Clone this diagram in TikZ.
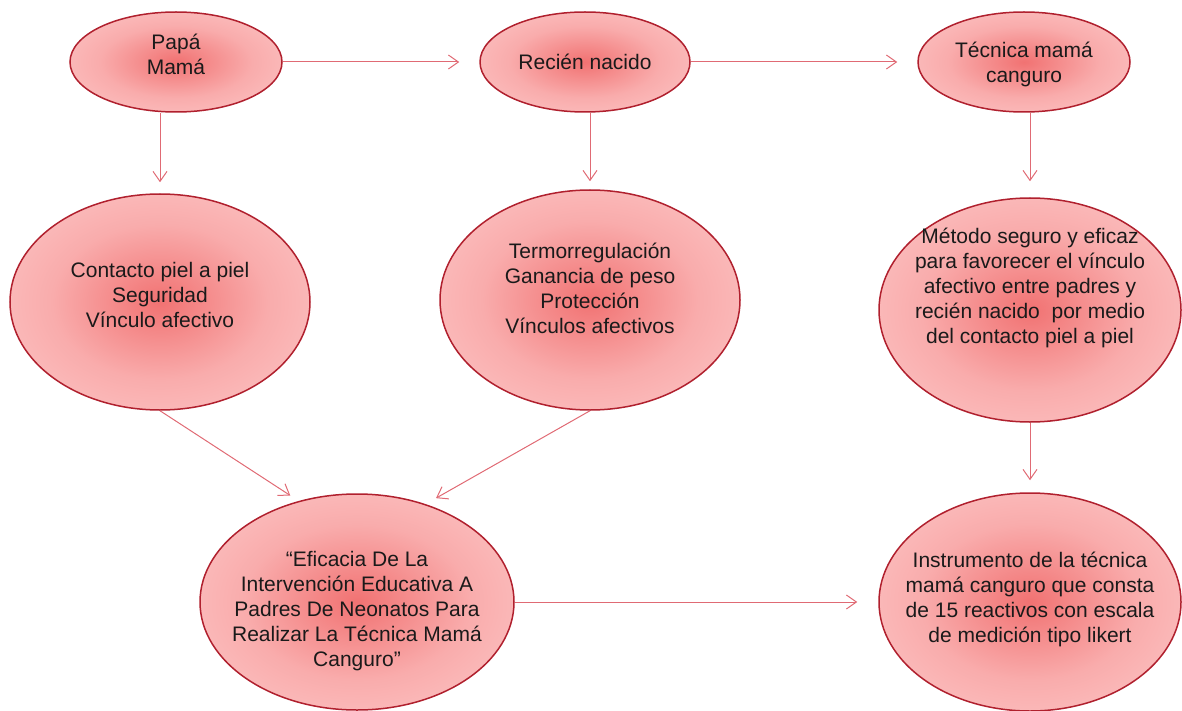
\documentclass[tikz,border=0pt]{standalone}
\usepackage{fontspec}
\setmainfont{Liberation Sans}
\usetikzlibrary{shapes.geometric, arrows.meta}
\definecolor{rim}{HTML}{B0202E}
\definecolor{core}{HTML}{F17272}
\definecolor{mid}{HTML}{F9ACAC}
\definecolor{halo}{HTML}{FFD8D8}
\definecolor{wire}{HTML}{E06A74}
\definecolor{ink}{HTML}{1A1A1A}
\pgfdeclareradialshading{blob}{\pgfpoint{0bp}{0bp}}{color(0bp)=(core); color(18bp)=(mid); color(45bp)=(halo); color(50bp)=(halo)}
\begin{document}
\begin{tikzpicture}[x=1pt, y=1pt, yscale=-1,
        bubble/.style={ellipse, draw=rim, line width=1.5pt, shading=blob, inner sep=0pt},
        txt/.style={align=center, text=ink, font=\fontsize{21}{25}\selectfont},
        link/.style={draw=wire, line width=1pt, -{Straight Barb[length=10pt, width=14pt]}}]
                \useasboundingbox (0, 0) rectangle (1182, 711);
                \node [bubble, minimum width=212pt, minimum height=100pt, label={[txt, yshift=8pt]center:{Papá\\Mamá}}] (0) at (176, 62) {};
                \node [bubble, minimum width=210pt, minimum height=100pt, label={[txt]center:{Recién nacido}}] (1) at (585, 62) {};
                \node [bubble, minimum width=212pt, minimum height=100pt, label={[txt, yshift=-2pt]center:{Técnica mamá\\canguro}}] (2) at (1024, 62) {};
                \node [bubble, minimum width=300pt, minimum height=216pt, label={[txt, yshift=7pt]center:{Contacto piel a piel\\Seguridad\\Vínculo afectivo}}] (3) at (160, 302) {};
                \node [bubble, minimum width=300pt, minimum height=220pt, label={[txt, yshift=12pt]center:{Termorregulación\\Ganancia de peso\\Protección\\Vínculos afectivos}}] (4) at (590, 300) {};
                \node [bubble, minimum width=302pt, minimum height=224pt, label={[txt, yshift=22pt]center:{Método seguro y eficaz\\para favorecer el vínculo\\afectivo entre padres y\\recién nacido~ por medio\\del contacto piel a piel}}] (5) at (1030, 310) {};
                \node [bubble, minimum width=314pt, minimum height=216pt, label={[txt, yshift=-9pt]center:{“Eficacia De La\\Intervención Educativa A\\Padres De Neonatos Para\\Realizar La Técnica Mamá\\Canguro”}}] (6) at (357, 602) {};
                \node [bubble, minimum width=302pt, minimum height=218pt, label={[txt, yshift=3pt]center:{Instrumento de la técnica\\mamá canguro que consta\\de 15 reactivos con escala\\de medición tipo likert}}] (7) at (1030, 602) {};
                \draw [link, shorten >=20pt] (0.east) to (1.west);
                \draw [link, shorten >=20pt] (1.east) to (2.west);
                \draw [link, shorten >=11pt] (0.south -| 3.north) to (3.north);
                \draw [link, shorten >=8pt] (1.south -| 4.north) to (4.north);
                \draw [link, shorten >=16pt] (2.south -| 5.north) to (5.north);
                \draw [link, shorten >=12pt] (5.south) to (7.north);
                \draw [link, shorten >=10pt] (3.south) to (6.120);
                \draw [link, shorten >=12pt] (4.south) to (6.55);
                \draw [link, shorten >=21pt] (6.east) to (7.west);
\end{tikzpicture}
\end{document}
